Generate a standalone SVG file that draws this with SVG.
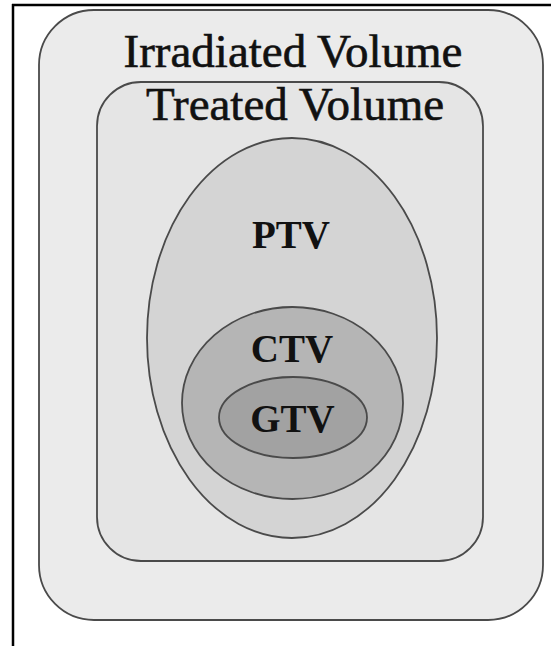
<svg xmlns="http://www.w3.org/2000/svg" width="551" height="646" viewBox="0 0 551 646">
<style>
.region{stroke:#4a4a4a;stroke-width:1.8}
.title{font-family:"Liberation Serif",serif;font-size:47px;fill:#111;stroke:#111;stroke-width:0.6;text-anchor:middle}
.label{font-family:"Liberation Serif",serif;font-size:39px;font-weight:bold;fill:#111;text-anchor:middle}
</style>
<rect width="551" height="646" fill="#ffffff"/>
<g id="frame">
<line x1="12" y1="5" x2="551" y2="5" stroke="#000" stroke-width="2.5"/>
<line x1="13" y1="4" x2="13" y2="646" stroke="#000" stroke-width="2.5"/>
</g>
<g id="irradiated">
<rect class="region" x="39" y="10" width="504" height="610" rx="55" ry="55" fill="#ebebeb"/>
<text class="title" x="293" y="67">Irradiated Volume</text>
</g>
<g id="treated">
<rect class="region" x="97" y="82" width="386" height="479" rx="44" ry="44" fill="#e5e5e5"/>
<text class="title" x="295" y="120">Treated Volume</text>
</g>
<g id="ptv">
<ellipse class="region" cx="292" cy="338" rx="145" ry="200" fill="#d4d4d4"/>
<text class="label" x="291" y="248">PTV</text>
</g>
<g id="ctv">
<ellipse class="region" cx="292.5" cy="403" rx="110.5" ry="96" fill="#b5b5b5"/>
<text class="label" x="292" y="362">CTV</text>
</g>
<g id="gtv">
<ellipse class="region" cx="293" cy="417.5" rx="74" ry="40.5" fill="#a2a2a2"/>
<text class="label" x="292.5" y="432">GTV</text>
</g>
<g id="connectors"/>
</svg>
